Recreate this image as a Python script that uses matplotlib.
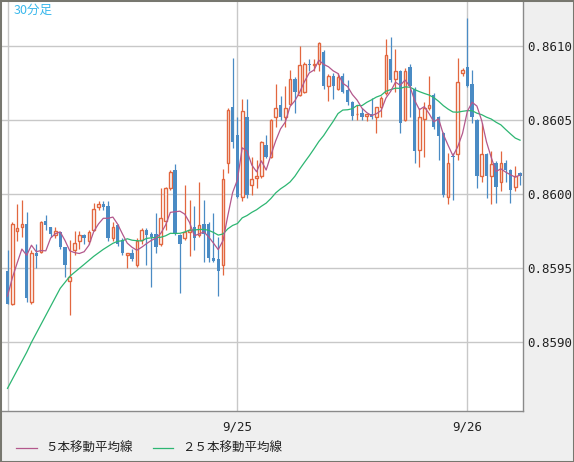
import numpy as np
import pandas as pd
import matplotlib
matplotlib.use('Agg')
import matplotlib.pyplot as plt
from matplotlib.lines import Line2D
from matplotlib.patches import Rectangle

# 30 minute bars starting 9/24 00:00
opens = [0.85948, 0.85926, 0.85975, 0.85978, 0.85980, 0.85927, 0.85960, 0.85961, 0.85982, 0.85978,
         0.85972, 0.85974, 0.85964, 0.85941, 0.85962, 0.85968, 0.85972, 0.85968, 0.85976, 0.85991,
         0.85993, 0.85992, 0.85970, 0.85979, 0.85969, 0.85959, 0.85960, 0.85952, 0.85969, 0.85976,
         0.85973, 0.85973, 0.85966, 0.85982, 0.86004, 0.86016, 0.85972, 0.85970, 0.85974, 0.85978,
         0.85972, 0.85980, 0.85980, 0.85957, 0.85956, 0.85952, 0.86021, 0.86059, 0.86040, 0.85998,
         0.86052, 0.86006, 0.86011, 0.86012, 0.86033, 0.86025, 0.86052, 0.86060, 0.86052, 0.86061,
         0.86078, 0.86067, 0.86069, 0.86088, 0.86087, 0.86088, 0.86096, 0.86073, 0.86080, 0.86071,
         0.86080, 0.86070, 0.86062, 0.86054, 0.86055, 0.86053, 0.86054, 0.86052, 0.86059, 0.86068,
         0.86091, 0.86078, 0.86083, 0.86050, 0.86086, 0.86071, 0.86030, 0.86051, 0.86058, 0.86067,
         0.86052, 0.86041, 0.85998, 0.86026, 0.86027, 0.86082, 0.86086, 0.86074, 0.86050, 0.86012,
         0.86027, 0.86012, 0.86021, 0.86008, 0.86021, 0.86016, 0.86005, 0.86014]
highs = [0.85962, 0.85981, 0.85993, 0.85996, 0.85988, 0.85962, 0.85966, 0.85982, 0.85986, 0.85978,
         0.85978, 0.85974, 0.85964, 0.85969, 0.85975, 0.85975, 0.85973, 0.85976, 0.85994, 0.85995,
         0.85995, 0.85995, 0.85981, 0.85980, 0.85970, 0.85960, 0.85963, 0.85970, 0.85977, 0.85977,
         0.85974, 0.85987, 0.86004, 0.86005, 0.86016, 0.86020, 0.85973, 0.86006, 0.85996, 0.85992,
         0.86008, 0.85996, 0.85981, 0.85987, 0.85971, 0.86017, 0.86058, 0.86092, 0.86052, 0.86064,
         0.86064, 0.86025, 0.86023, 0.86036, 0.86040, 0.86051, 0.86074, 0.86066, 0.86073, 0.86084,
         0.86079, 0.86100, 0.86089, 0.86091, 0.86091, 0.86103, 0.86097, 0.86081, 0.86082, 0.86082,
         0.86082, 0.86077, 0.86063, 0.86060, 0.86058, 0.86054, 0.86065, 0.86059, 0.86066, 0.86105,
         0.86106, 0.86098, 0.86084, 0.86085, 0.86088, 0.86072, 0.86058, 0.86062, 0.86080, 0.86068,
         0.86053, 0.86042, 0.86028, 0.86028, 0.86092, 0.86085, 0.86119, 0.86084, 0.86051, 0.86048,
         0.86028, 0.86029, 0.86022, 0.86029, 0.86023, 0.86017, 0.86019, 0.86015]
lows = [0.85926, 0.85925, 0.85968, 0.85971, 0.85927, 0.85926, 0.85950, 0.85960, 0.85976, 0.85971,
        0.85970, 0.85963, 0.85944, 0.85918, 0.85959, 0.85963, 0.85966, 0.85966, 0.85975, 0.85989,
        0.85989, 0.85968, 0.85968, 0.85965, 0.85959, 0.85950, 0.85955, 0.85951, 0.85966, 0.85952,
        0.85937, 0.85960, 0.85965, 0.85976, 0.86003, 0.85972, 0.85933, 0.85969, 0.85958, 0.85962,
        0.85971, 0.85954, 0.85954, 0.85954, 0.85931, 0.85945, 0.86014, 0.86031, 0.85997, 0.85995,
        0.85997, 0.85999, 0.86004, 0.86011, 0.86024, 0.86024, 0.86045, 0.86050, 0.86045, 0.86060,
        0.86055, 0.86066, 0.86068, 0.86083, 0.86083, 0.86083, 0.86071, 0.86063, 0.86064, 0.86070,
        0.86068, 0.86060, 0.86050, 0.86050, 0.86050, 0.86049, 0.86051, 0.86041, 0.86052, 0.86067,
        0.86076, 0.86069, 0.86041, 0.86049, 0.86052, 0.86021, 0.86018, 0.86025, 0.86057, 0.86044,
        0.86023, 0.85998, 0.85993, 0.85996, 0.86023, 0.86080, 0.86072, 0.86048, 0.86004, 0.86008,
        0.85997, 0.85993, 0.85994, 0.86002, 0.86008, 0.85994, 0.86002, 0.86006]
closes = [0.85926, 0.85980, 0.85977, 0.85980, 0.85930, 0.85960, 0.85958, 0.85981, 0.85979, 0.85973,
          0.85975, 0.85964, 0.85952, 0.85944, 0.85967, 0.85972, 0.85970, 0.85974, 0.85990, 0.85993,
          0.85991, 0.85970, 0.85978, 0.85966, 0.85960, 0.85960, 0.85956, 0.85968, 0.85976, 0.85972,
          0.85971, 0.85964, 0.85984, 0.86004, 0.86015, 0.85973, 0.85966, 0.85974, 0.85976, 0.85970,
          0.85979, 0.85973, 0.85957, 0.85955, 0.85948, 0.86010, 0.86057, 0.86035, 0.85998, 0.86056,
          0.85999, 0.86010, 0.86012, 0.86035, 0.86025, 0.86050, 0.86058, 0.86052, 0.86058, 0.86078,
          0.86069, 0.86087, 0.86088, 0.86087, 0.86088, 0.86102, 0.86073, 0.86080, 0.86073, 0.86079,
          0.86069, 0.86062, 0.86053, 0.86054, 0.86052, 0.86054, 0.86052, 0.86059, 0.86065, 0.86094,
          0.86077, 0.86083, 0.86048, 0.86083, 0.86073, 0.86029, 0.86052, 0.86058, 0.86060, 0.86045,
          0.86039, 0.85999, 0.86021, 0.86025, 0.86076, 0.86084, 0.86073, 0.86052, 0.86012, 0.86027,
          0.86012, 0.86020, 0.86005, 0.86021, 0.86016, 0.86003, 0.86012, 0.86012]
# closes of the 24 bars before the window (off screen), only used to seed the averages
prior_closes = [0.85828, 0.85825, 0.85828, 0.85778, 0.85791, 0.85806, 0.85829, 0.85827,
                0.85821, 0.85823, 0.85812, 0.85851, 0.85842, 0.85899, 0.85905, 0.85903,
                0.85906, 0.85922, 0.85934, 0.85932, 0.85919, 0.85927, 0.85932, 0.85951]

date_ticks = [0, 48, 96]
date_labels = ['', '9/25', '9/26']
price_ticks = [0.8590, 0.8595, 0.8600, 0.8605, 0.8610]
title = '30分足'
ma_labels = ['５本移動平均線', '２５本移動平均線']

up_color = '#e2673f'
down_color = '#4a8bc4'
ma5_color = '#b3588c'
ma25_color = '#2db672'
W, H = 574, 462

all_closes = pd.Series(prior_closes + closes)
n_prior = len(prior_closes)
ma5 = all_closes.rolling(5).mean().values[n_prior:]
ma25 = all_closes.rolling(25).mean().values[n_prior:]

fig = plt.figure(figsize=(W / 100, H / 100), dpi=100, facecolor='#efefef')
ax = fig.add_axes([2 / W, 1 - 411 / H, 521 / W, 410 / H])
ax.set_facecolor('white')

x = np.arange(len(closes))
o = np.array(opens)
c = np.array(closes)
up = c >= o

# wicks
ax.vlines(x[up], np.array(lows)[up], np.array(highs)[up], color=up_color, lw=0.9, zorder=2)
ax.vlines(x[~up], np.array(lows)[~up], np.array(highs)[~up], color=down_color, lw=0.9, zorder=2)
# bodies: hollow orange for up bars, filled blue for down bars
ax.bar(x[up], (c - o)[up], bottom=o[up], width=0.55, facecolor='white',
       edgecolor=up_color, linewidth=1.0, zorder=3)
ax.bar(x[~up], (o - c)[~up], bottom=c[~up], width=0.7, color=down_color,
       linewidth=0, zorder=3)

ax.plot(x, ma25, color=ma25_color, lw=0.9, zorder=4)
ax.plot(x, ma5, color=ma5_color, lw=0.9, zorder=5)

ax.set_xlim((2 - 7.5) / 4.79, (523 - 7.5) / 4.79)
ax.set_ylim(0.86 - 217 / 148000, 0.86 + 193 / 148000)

ax.set_xticks(date_ticks)
ax.set_xticklabels(date_labels)
ax.set_yticks(price_ticks)
ax.set_yticklabels(['%.4f' % p for p in price_ticks])
ax.yaxis.tick_right()
ax.tick_params(length=0, labelsize=9, colors='#222222')
ax.tick_params(axis='y', pad=3)
ax.tick_params(axis='x', pad=7)
for lab in ax.get_xticklabels() + ax.get_yticklabels():
    lab.set_fontfamily('DejaVu Sans Mono')
ax.grid(True, color='#c8c8c8', lw=1.0, zorder=0)
ax.set_axisbelow(True)

for side in ['top', 'left']:
    ax.spines[side].set_visible(False)
for side in ['right', 'bottom']:
    ax.spines[side].set_color('#8a8a8a')
    ax.spines[side].set_linewidth(1.0)

fig.text(14 / W, 1 - 10 / H, title, color='#3ab8ec', fontsize=9,
         family=['Noto Sans CJK JP', 'DejaVu Sans'], va='center', ha='left')

# legend row under the date labels
leg_y = 1 - 448 / H
fig.add_artist(Line2D([16 / W, 37 / W], [leg_y, leg_y], color=ma5_color, lw=0.9))
fig.text(45 / W, leg_y, ma_labels[0], fontsize=9, color='#222222',
         family=['Noto Sans CJK JP', 'DejaVu Sans'], va='center', ha='left')
fig.add_artist(Line2D([153 / W, 173 / W], [leg_y, leg_y], color=ma25_color, lw=0.9))
fig.text(182 / W, leg_y, ma_labels[1], fontsize=9, color='#222222',
         family=['Noto Sans CJK JP', 'DejaVu Sans'], va='center', ha='left')

# outer frame of the widget
fig.add_artist(Rectangle((0, 0), 1, 1, transform=fig.transFigure, fill=False,
                         edgecolor='#77776f', linewidth=2.2))

fig.savefig('out.png', dpi=100, facecolor=fig.get_facecolor())
